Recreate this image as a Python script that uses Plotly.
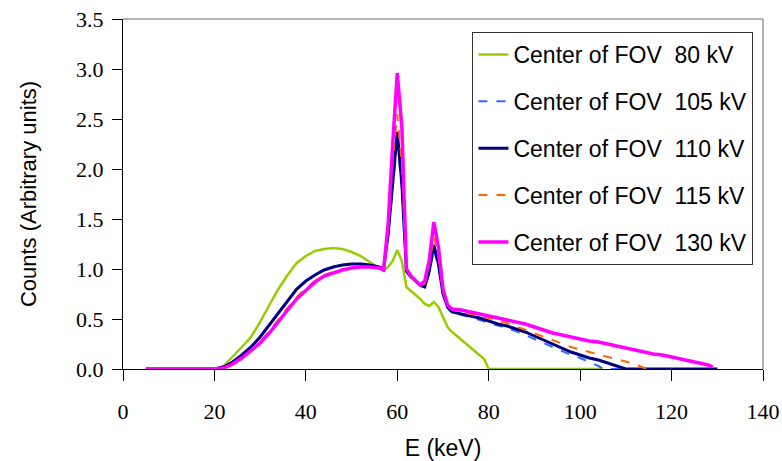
import plotly.graph_objects as go

# ---- data ----
E_80 = [5, 20, 22, 24, 26, 28, 30, 32, 34, 36, 38, 40, 42, 44, 46, 48, 50, 52, 54, 56, 57, 58, 59, 60, 61, 62,
        63, 64, 65, 66, 67, 68, 69, 70, 71, 72, 74, 76, 78, 79, 80, 105]
Y_80 = [0, 0, 0.03, 0.12, 0.22, 0.32, 0.47, 0.64, 0.80, 0.94, 1.06, 1.13, 1.18, 1.20, 1.21, 1.20, 1.17, 1.13,
        1.07, 1.01, 0.98, 1.02, 1.08, 1.19, 1.08, 0.82, 0.78, 0.74, 0.70, 0.65, 0.63, 0.67, 0.62, 0.52, 0.42,
        0.37, 0.29, 0.22, 0.14, 0.10, 0.0, 0.0]

E_105 = [5, 20, 22, 24, 26, 28, 30, 32, 34, 36, 38, 40, 42, 44, 46, 48, 50, 52, 54, 56, 57, 58, 59, 60, 61, 62,
         63, 64, 65, 66, 67, 68, 69, 70, 71, 72, 74, 76, 80, 84, 87, 90, 94, 98, 100, 102, 104, 105, 110]
Y_105 = [0, 0, 0.02, 0.07, 0.14, 0.22, 0.32, 0.44, 0.57, 0.69, 0.80, 0.88, 0.94, 0.99, 1.02, 1.04, 1.05, 1.05,
         1.04, 1.02, 1.00, 1.33, 1.85, 2.30, 1.80, 0.97, 0.91, 0.87, 0.83, 0.81, 0.96, 1.20, 1.02, 0.74, 0.61,
         0.56, 0.54, 0.52, 0.46, 0.41, 0.36, 0.30, 0.22, 0.14, 0.11, 0.07, 0.03, 0.0, 0.0]

E_110 = [5, 20, 22, 24, 26, 28, 30, 32, 34, 36, 38, 40, 42, 44, 46, 48, 50, 52, 54, 56, 57, 58, 59, 60, 61, 62,
         63, 64, 65, 66, 67, 68, 69, 70, 71, 72, 74, 76, 78, 80, 82, 84, 86, 88, 90, 92, 94, 96, 98, 100, 102,
         104, 106, 108, 109, 110, 130]
Y_110 = [0, 0, 0.02, 0.07, 0.14, 0.22, 0.32, 0.44, 0.57, 0.69, 0.80, 0.88, 0.94, 0.99, 1.02, 1.04, 1.05, 1.05,
         1.04, 1.02, 1.00, 1.35, 1.90, 2.37, 1.85, 0.98, 0.92, 0.88, 0.84, 0.82, 0.98, 1.24, 1.05, 0.75, 0.62,
         0.57, 0.55, 0.53, 0.51, 0.48, 0.45, 0.43, 0.40, 0.37, 0.33, 0.29, 0.25, 0.21, 0.17, 0.14, 0.11, 0.09,
         0.06, 0.03, 0.01, 0.0, 0.0]

E_115 = [5, 20, 22, 24, 26, 28, 30, 32, 34, 36, 38, 40, 42, 44, 46, 48, 50, 52, 54, 56, 57, 58, 59, 60, 61, 62,
         63, 64, 65, 66, 67, 68, 69, 70, 71, 72, 74, 76, 80, 84, 87, 90, 94, 98, 102, 106, 110, 112, 114, 115]
Y_115 = [0, 0, 0.01, 0.05, 0.11, 0.19, 0.27, 0.38, 0.50, 0.61, 0.72, 0.81, 0.88, 0.94, 0.97, 1.00, 1.01, 1.02,
         1.02, 1.01, 0.99, 1.40, 2.10, 2.55, 2.05, 0.99, 0.92, 0.88, 0.84, 0.85, 1.04, 1.33, 1.12, 0.77, 0.63,
         0.59, 0.57, 0.55, 0.51, 0.46, 0.41, 0.36, 0.29, 0.22, 0.17, 0.12, 0.07, 0.05, 0.01, 0.0]

E_130 = [5, 20, 22, 24, 26, 28, 30, 32, 34, 36, 38, 40, 42, 44, 46, 48, 50, 52, 54, 56, 57, 58, 59, 60, 61, 62,
         63, 64, 65, 66, 67, 68, 69, 70, 71, 72, 74, 76, 78, 80, 82, 84, 86, 88, 90, 92, 94, 96, 98, 100, 102,
         104, 106, 108, 110, 112, 114, 116, 118, 120, 122, 124, 126, 128, 129]
Y_130 = [0, 0, 0.01, 0.05, 0.11, 0.18, 0.26, 0.36, 0.48, 0.59, 0.70, 0.79, 0.87, 0.93, 0.96, 0.99, 1.01, 1.02,
         1.02, 1.01, 0.99, 1.45, 2.25, 2.96, 2.42, 1.00, 0.93, 0.88, 0.84, 0.88, 1.09, 1.47, 1.22, 0.80, 0.64,
         0.60, 0.59, 0.57, 0.55, 0.53, 0.51, 0.49, 0.47, 0.45, 0.42, 0.39, 0.36, 0.34, 0.32, 0.30, 0.28, 0.27,
         0.25, 0.23, 0.21, 0.19, 0.17, 0.15, 0.14, 0.12, 0.10, 0.08, 0.06, 0.04, 0.02]

NAMES = ["Center of FOV\u00a0 80 kV", "Center of FOV\u00a0 105 kV", "Center of FOV\u00a0 110 kV",
         "Center of FOV\u00a0 115 kV", "Center of FOV\u00a0 130 kV"]
X_TICKS = [0, 20, 40, 60, 80, 100, 120, 140]
Y_TICKS = [0.0, 0.5, 1.0, 1.5, 2.0, 2.5, 3.0, 3.5]

series = [
    (E_80, Y_80, "#99CC00", 2.5, "solid"),
    (E_105, Y_105, "#3366FF", 2, "dash"),
    (E_110, Y_110, "#000080", 3, "solid"),
    (E_115, Y_115, "#FF6600", 2, "dash"),
    (E_130, Y_130, "#FF00FF", 3.5, "solid"),
]

fig = go.Figure()
for i, (ex, ey, col, w, dash) in enumerate(series):
    fig.add_trace(go.Scatter(x=ex, y=ey, mode="lines", name=NAMES[i], legendgroup=str(i),
                             line=dict(color=col, width=w, dash=dash)))

SERIF = "Liberation Serif, Times New Roman, serif"
SANS = "Liberation Sans, Arial, sans-serif"

fig.update_layout(
    width=782, height=461,
    margin=dict(l=123, r=19, t=19, b=92, autoexpand=False),
    paper_bgcolor="white", plot_bgcolor="white",
    showlegend=True,
    legend=dict(x=0.546, y=0.963, xanchor="left", yanchor="top",
                bgcolor="white", bordercolor="#333333", borderwidth=1,
                font=dict(family=SANS, size=23, color="black"),
                tracegroupgap=14, itemwidth=30, entrywidth=245, entrywidthmode="pixels"),
    xaxis=dict(range=[0, 140], tickvals=X_TICKS, ticktext=[str(v) for v in X_TICKS],
               automargin=False,
               showgrid=False, zeroline=False, showline=True, linecolor="black", linewidth=1,
               ticks="outside", ticklen=11, tickcolor="black", ticklabelstandoff=12,
               tickfont=dict(family=SERIF, size=22, color="black"),
               title=dict(text="E (keV)", font=dict(family=SANS, size=23, color="black"),
                          standoff=19)),
    yaxis=dict(range=[0, 3.5], tickvals=Y_TICKS, ticktext=["%.1f" % v for v in Y_TICKS],
               automargin=False,
               showgrid=False, zeroline=False, showline=True, linecolor="black", linewidth=1,
               ticks="outside", ticklen=10, tickcolor="black", ticklabelstandoff=4,
               tickfont=dict(family=SERIF, size=22, color="black"),
               title=dict(text="Counts (Arbitrary units)",
                          font=dict(family=SANS, size=22, color="black"),
                          standoff=33)),
    shapes=[
        dict(type="line", xref="paper", yref="paper", x0=0, x1=1, y0=1, y1=1,
             line=dict(color="#9a9a9a", width=1.5), layer="below"),
        dict(type="line", xref="paper", yref="paper", x0=1, x1=1, y0=0, y1=1,
             line=dict(color="#9a9a9a", width=1.5), layer="below"),
    ],
)

fig.write_html("out.html")
